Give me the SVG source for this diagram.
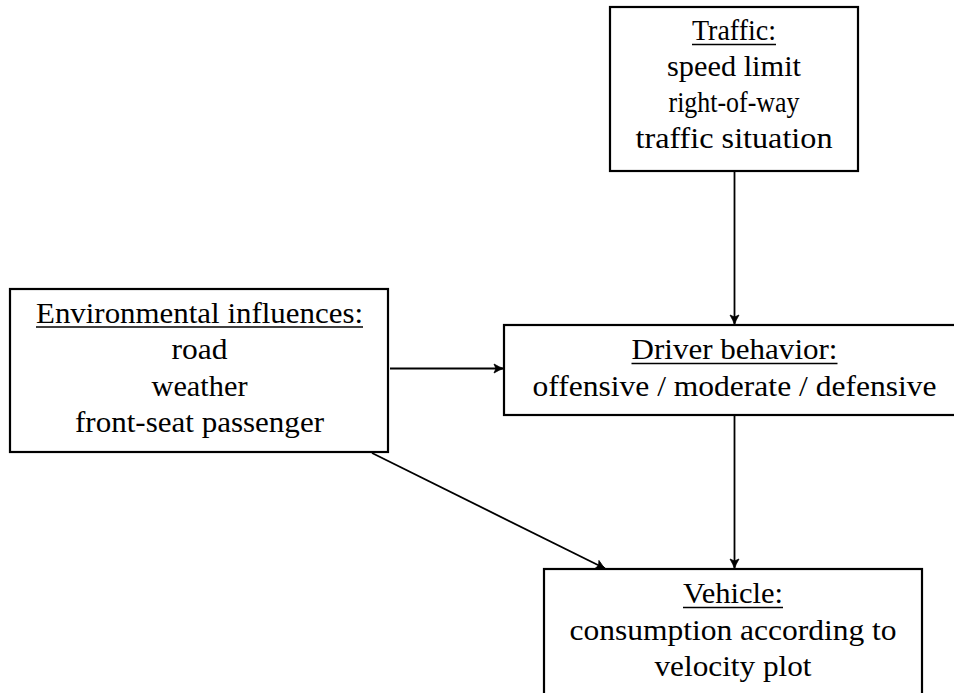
<svg xmlns="http://www.w3.org/2000/svg" width="954" height="693" viewBox="0 0 954 693">
<style>
.box{fill:#fff;stroke:#000;stroke-width:2.2}
.t{font-family:'Liberation Serif','Times New Roman',serif;font-size:29px;fill:#000;text-anchor:middle}
.ul{stroke:#000;stroke-width:1.3}
.edge{stroke:#000;stroke-width:1.8;fill:none;marker-end:url(#arr)}
</style>
<defs>
<marker id="arr" markerUnits="userSpaceOnUse" markerWidth="14" markerHeight="12" viewBox="-11 -6 13 12" refX="0" refY="0" orient="auto">
<path d="M-9,-4.5 Q-3.5,-1.2 0.5,0 Q-3.5,1.2 -9,4.5 L-7,0 Z" fill="#000" stroke="#000" stroke-width="0.8" stroke-linejoin="round"/>
</marker>
</defs>
<rect width="954" height="693" fill="#fff"/>
<g id="connectors">
<line class="edge" x1="734.5" y1="172" x2="734.5" y2="324"/>
<line class="edge" x1="390" y1="368.5" x2="503" y2="368.5"/>
<line class="edge" x1="734.5" y1="416" x2="734.5" y2="568"/>
<line class="edge" x1="372" y1="453" x2="605" y2="568.5"/>
</g>
<g id="traffic">
<rect class="box" x="610" y="7" width="248" height="164"/>
<text class="t" x="734" y="40" textLength="84" lengthAdjust="spacingAndGlyphs">Traffic:</text>
<line class="ul" x1="692" y1="44.5" x2="776" y2="44.5"/>
<text class="t" x="734" y="76" textLength="134" lengthAdjust="spacingAndGlyphs">speed limit</text>
<text class="t" x="734" y="112" textLength="131" lengthAdjust="spacingAndGlyphs">right-of-way</text>
<text class="t" x="734" y="148" textLength="197" lengthAdjust="spacingAndGlyphs">traffic situation</text>
</g>
<g id="environment">
<rect class="box" x="10" y="289" width="378" height="163"/>
<text class="t" x="199.5" y="322.5" textLength="327" lengthAdjust="spacingAndGlyphs">Environmental influences:</text>
<line class="ul" x1="36" y1="327" x2="363" y2="327"/>
<text class="t" x="199.5" y="359" textLength="56" lengthAdjust="spacingAndGlyphs">road</text>
<text class="t" x="199.5" y="395.5" textLength="96" lengthAdjust="spacingAndGlyphs">weather</text>
<text class="t" x="199.5" y="431.5" textLength="249" lengthAdjust="spacingAndGlyphs">front-seat passenger</text>
</g>
<g id="driver">
<rect class="box" x="504" y="325" width="462" height="90"/>
<text class="t" x="734.5" y="359" textLength="206" lengthAdjust="spacingAndGlyphs">Driver behavior:</text>
<line class="ul" x1="631.5" y1="363.5" x2="837.5" y2="363.5"/>
<text class="t" x="734.5" y="395.5" textLength="404" lengthAdjust="spacingAndGlyphs">offensive / moderate / defensive</text>
</g>
<g id="vehicle">
<rect class="box" x="544" y="569" width="378" height="160"/>
<text class="t" x="733" y="603" textLength="100" lengthAdjust="spacingAndGlyphs">Vehicle:</text>
<line class="ul" x1="683" y1="607.5" x2="783" y2="607.5"/>
<text class="t" x="733" y="639.5" textLength="327" lengthAdjust="spacingAndGlyphs">consumption according to</text>
<text class="t" x="733" y="676" textLength="157" lengthAdjust="spacingAndGlyphs">velocity plot</text>
</g>
</svg>
